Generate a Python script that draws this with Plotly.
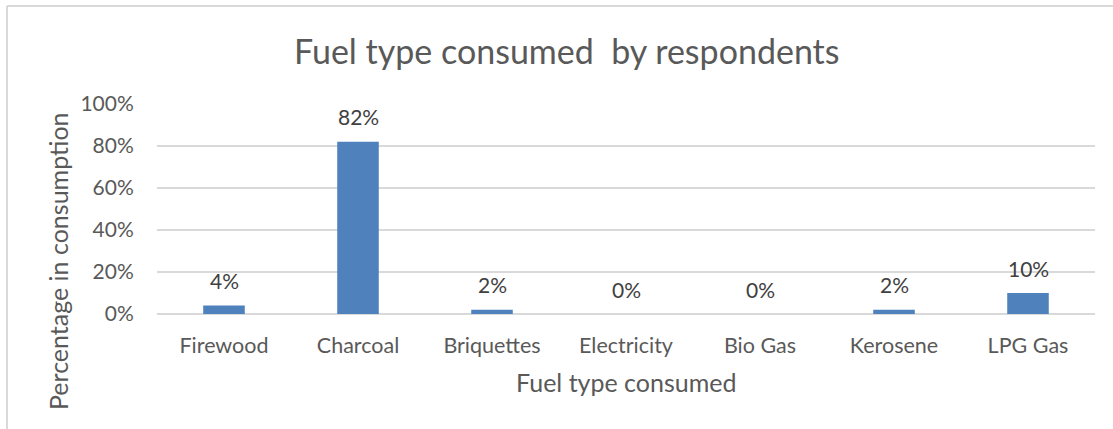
import plotly.graph_objects as go

categories = ["Firewood", "Charcoal", "Briquettes", "Electricity", "Bio Gas", "Kerosene", "LPG Gas"]
values = [0.04, 0.82, 0.02, 0.0, 0.0, 0.02, 0.10]
labels = ["4%", "82%", "2%", "0%", "0%", "2%", "10%"]

W, H = 1113, 429
L, R, T, B = 157, 18, 104, 115
pw, ph = W - L - R, H - T - B

def px_x(x):
    return (x - L) / pw

def px_y(y):
    return (H - B - y) / ph

FONT = "Lato"
GREY = "#595959"

fig = go.Figure()
fig.add_trace(go.Bar(
    x=categories, y=values,
    marker=dict(color="#4F81BD", line=dict(width=0)),
    width=0.31,
))

for c, v, t in zip(categories, values, labels):
    fig.add_annotation(x=c, y=v, text=t, showarrow=False, yshift=25,
                       xanchor="center", yanchor="middle",
                       font=dict(family=FONT, size=21, color="#404040"))

fig.add_annotation(xref="paper", yref="paper", x=px_x(58), y=px_y(261),
                   xanchor="center", yanchor="middle",
                   text="Percentage in consumption", textangle=-90, showarrow=False,
                   font=dict(family=FONT, size=25, color=GREY))
fig.add_annotation(xref="paper", yref="paper", x=px_x(626), y=px_y(382),
                   xanchor="center", yanchor="middle",
                   text="Fuel type consumed", showarrow=False,
                   font=dict(family=FONT, size=25, color=GREY))
fig.add_annotation(xref="paper", yref="paper", x=px_x(567), y=px_y(50),
                   xanchor="center", yanchor="middle",
                   text="Fuel type consumed  by respondents", showarrow=False,
                   font=dict(family=FONT, size=34, color=GREY))

fig.add_shape(type="line", xref="paper", yref="paper",
              x0=px_x(7), x1=px_x(1113), y0=px_y(6), y1=px_y(6),
              line=dict(color="#D9D9D9", width=2))
fig.add_shape(type="line", xref="paper", yref="paper",
              x0=px_x(7), x1=px_x(7), y0=px_y(6), y1=px_y(429),
              line=dict(color="#D9D9D9", width=2))

fig.update_layout(
    width=W, height=H,
    margin=dict(l=L, r=R, t=T, b=B),
    paper_bgcolor="white", plot_bgcolor="white",
    showlegend=False,
    font=dict(family=FONT, color=GREY),
)
fig.update_xaxes(showgrid=False, ticks="outside", ticklen=12, tickcolor="rgba(0,0,0,0)",
                 showline=False,
                 tickfont=dict(family=FONT, size=21.5, color=GREY))
fig.update_yaxes(range=[0, 1], dtick=0.2, tickformat=".0%", showgrid=True,
                 gridcolor="#D9D9D9", gridwidth=1.5, zeroline=True,
                 zerolinecolor="#D9D9D9", zerolinewidth=1.5,
                 ticks="outside", ticklen=18, tickcolor="rgba(0,0,0,0)",
                 tickfont=dict(family=FONT, size=21, color=GREY))

fig.write_html("out.html", config={"displayModeBar": False},
               post_script="document.body.style.margin='0';document.body.style.padding='0';")
